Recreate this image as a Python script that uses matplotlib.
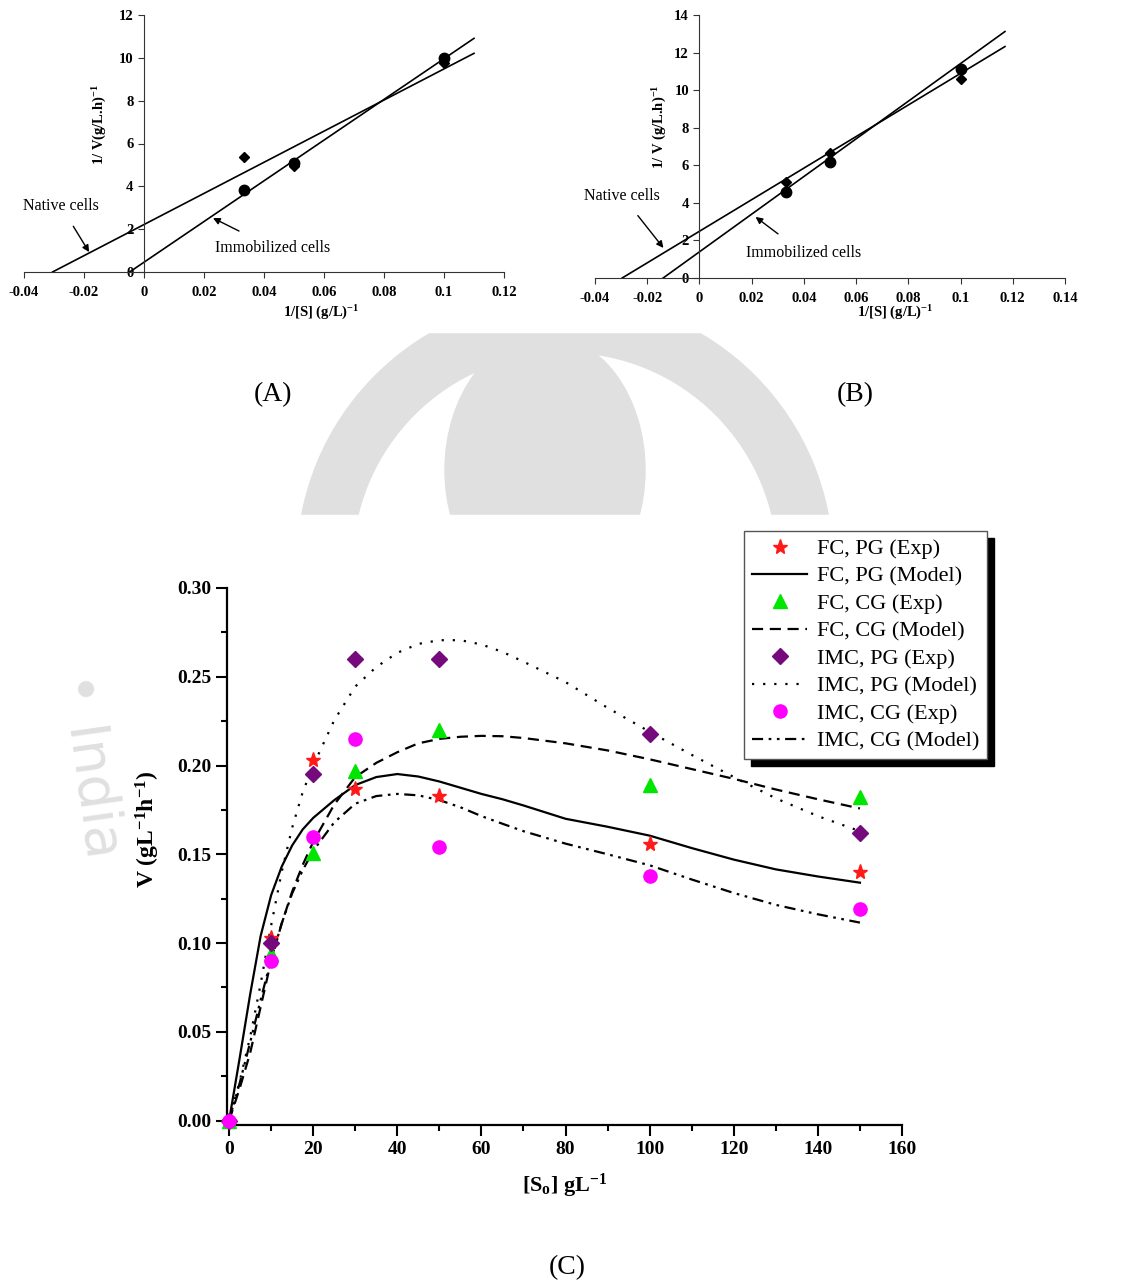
import matplotlib
matplotlib.use('Agg')
import matplotlib.pyplot as plt
from matplotlib.patches import Rectangle, Wedge, Ellipse
from matplotlib.transforms import Affine2D

plt.rcParams['font.family'] = ['Liberation Serif', 'DejaVu Serif']
plt.rcParams['mathtext.fontset'] = 'custom'
plt.rcParams['mathtext.rm'] = 'Liberation Serif'
plt.rcParams['mathtext.bf'] = 'Liberation Serif:bold'
plt.rcParams['mathtext.it'] = 'Liberation Serif:italic'

# ---- panel A: Lineweaver-Burk, native vs immobilized ----
a_inv_s = [0.0333, 0.05, 0.1]
a_native = [5.36, 4.93, 9.75]
a_immob = [3.81, 5.11, 9.98]
a_native_fit_x = [-0.0305, 0.110]
a_native_fit_y = [0.0, 10.21]
a_immob_fit_x = [-0.0048, 0.110]
a_immob_fit_y = [0.0, 10.91]

# ---- panel B ----
b_inv_s = [0.0333, 0.05, 0.1]
b_native = [5.09, 6.65, 10.58]
b_immob = [4.57, 6.18, 11.11]
b_native_fit_x = [-0.0296, 0.117]
b_native_fit_y = [0.0, 12.32]
b_immob_fit_x = [-0.0139, 0.117]
b_immob_fit_y = [0.0, 13.12]

# ---- panel C: rate vs substrate ----
s_exp = [0, 10, 20, 30, 50, 100, 150]
fc_pg_exp = [0.0, 0.103, 0.203, 0.187, 0.183, 0.156, 0.140]
fc_cg_exp = [0.0, 0.094, 0.151, 0.197, 0.220, 0.189, 0.182]
imc_pg_exp = [0.0, 0.100, 0.195, 0.260, 0.260, 0.218, 0.162]
imc_cg_exp = [0.0, 0.090, 0.160, 0.215, 0.154, 0.138, 0.119]

s_model = [0, 2.5, 5, 7.5, 10, 12.5, 15, 17.5, 20, 25, 30, 35, 40, 45, 50,
           55, 60, 65, 70, 80, 90, 100, 110, 120, 130, 140, 150]
fc_pg_model = [0.0, 0.035, 0.071, 0.104, 0.127, 0.143, 0.155, 0.164, 0.1705,
               0.1805, 0.189, 0.1935, 0.1952, 0.1938, 0.191, 0.1875, 0.184,
               0.181, 0.1775, 0.170, 0.1655, 0.1605, 0.1535, 0.147, 0.1415,
               0.1375, 0.134]
fc_cg_model = [0.0, 0.018, 0.038, 0.064, 0.090, 0.111, 0.129, 0.144, 0.157,
               0.178, 0.1935, 0.2015, 0.2075, 0.2125, 0.215, 0.2162, 0.2167,
               0.2165, 0.2155, 0.2125, 0.2085, 0.2035, 0.198, 0.1925, 0.1865,
               0.181, 0.1758]
imc_pg_model = [0.0, 0.022, 0.047, 0.077, 0.110, 0.140, 0.165, 0.185, 0.200,
                0.2255, 0.2445, 0.2555, 0.2635, 0.2685, 0.2706, 0.2706,
                0.2682, 0.264, 0.2585, 0.247, 0.2325, 0.219, 0.206, 0.1935,
                0.1815, 0.1715, 0.163]
imc_cg_model = [0.0, 0.021, 0.044, 0.068, 0.091, 0.111, 0.128, 0.141, 0.152,
                0.168, 0.1785, 0.1828, 0.184, 0.1832, 0.1805, 0.1765, 0.1715,
                0.1672, 0.163, 0.156, 0.150, 0.1438, 0.1358, 0.1282, 0.1215,
                0.1162, 0.1115]

W, H = 1137, 1285
fig = plt.figure(figsize=(W / 100, H / 100), dpi=100)
px = Affine2D().scale(1 / W, -1 / H).translate(0, 1) + fig.transFigure

# faint watermark behind the panels
wm = '#e0e0e0'
fig.patches.append(Wedge((565, 565), 268, 0, 360, width=55, color=wm,
                         transform=px, zorder=-5))
fig.patches.append(Ellipse((545, 470), 200, 270, color=wm,
                           transform=px, zorder=-5))
fig.text(90, 765, '• India', transform=px, rotation=-82, color=wm,
         fontsize=40, ha='center', va='center', family='DejaVu Sans',
         zorder=-5)
# white backgrounds of the original images
for x0, y0, w, h in [(0, 0, 1137, 332), (125, 515, 880, 700)]:
    fig.patches.append(Rectangle((x0, y0), w, h, color='white',
                                 transform=px, zorder=-4))


def lb_axes(rect, xlim, ylim, xticks, yticks):
    ax = fig.add_axes(rect)
    ax.set_facecolor('none')
    ax.set_xlim(*xlim)
    ax.set_ylim(*ylim)
    for sp in ['top', 'right']:
        ax.spines[sp].set_visible(False)
    ax.spines['left'].set_position(('data', 0))
    ax.spines['bottom'].set_position(('data', 0))
    for sp in ['left', 'bottom']:
        ax.spines[sp].set_linewidth(0.8)
        ax.spines[sp].set_color('#333333')
    ax.set_xticks(xticks)
    ax.set_xticklabels([('%g' % t) for t in xticks])
    ax.set_yticks(yticks)
    ax.tick_params(direction='out', length=4, width=0.8, colors='#333333',
                   labelcolor='black', labelsize=10.5)
    for lab in ax.get_xticklabels() + ax.get_yticklabels():
        lab.set_fontweight('bold')
    ax.tick_params(axis='x', pad=6)
    return ax


# panel A
axA = lb_axes([24 / W, 1 - 272 / H, 480 / W, 257 / H], (-0.04, 0.12), (0, 12),
              [-0.04, -0.02, 0, 0.02, 0.04, 0.06, 0.08, 0.1, 0.12],
              [0, 2, 4, 6, 8, 10, 12])
axA.plot(a_native_fit_x, a_native_fit_y, color='black', lw=1.2)
axA.plot(a_immob_fit_x, a_immob_fit_y, color='black', lw=1.2)
axA.plot(a_inv_s, a_native, 'D', color='black', ms=5.5, clip_on=False)
axA.plot(a_inv_s, a_immob, 'o', color='black', ms=7.5, clip_on=False)
axA.annotate('Native cells', xy=(-0.0183, 0.93), xytext=(-0.0277, 3.08),
             ha='center', va='center', fontsize=11.5,
             arrowprops=dict(arrowstyle='-|>', color='black', lw=1,
                             mutation_scale=10, shrinkA=8, shrinkB=0))
axA.annotate('Immobilized cells', xy=(0.023, 2.52), xytext=(0.043, 1.12),
             ha='center', va='center', fontsize=11.5,
             arrowprops=dict(arrowstyle='-|>', color='black', lw=1,
                             mutation_scale=10, shrinkA=10, shrinkB=0))
fig.text(321, 313, r'1/[S] (g/L)$^{\mathbf{-1}}$', transform=px, ha='center',
         va='center', fontsize=10.5, fontweight='bold')
fig.text(100, 125, r'1/ V(g/L.h)$^{\mathbf{-1}}$', transform=px, ha='center',
         va='center', fontsize=10.5, fontweight='bold', rotation=90)

# panel B
axB = lb_axes([595 / W, 1 - 278 / H, 470 / W, 263 / H], (-0.04, 0.14), (0, 14),
              [-0.04, -0.02, 0, 0.02, 0.04, 0.06, 0.08, 0.1, 0.12, 0.14],
              [0, 2, 4, 6, 8, 10, 12, 14])
axB.plot(b_native_fit_x, b_native_fit_y, color='black', lw=1.2)
axB.plot(b_immob_fit_x, b_immob_fit_y, color='black', lw=1.2)
axB.plot(b_inv_s, b_native, 'D', color='black', ms=5.5, clip_on=False)
axB.plot(b_inv_s, b_immob, 'o', color='black', ms=7.5, clip_on=False)
axB.annotate('Native cells', xy=(-0.0138, 1.6), xytext=(-0.0295, 4.36),
             ha='center', va='center', fontsize=11.5,
             arrowprops=dict(arrowstyle='-|>', color='black', lw=1,
                             mutation_scale=10, shrinkA=8, shrinkB=0))
axB.annotate('Immobilized cells', xy=(0.0215, 3.25), xytext=(0.0398, 1.33),
             ha='center', va='center', fontsize=11.5,
             arrowprops=dict(arrowstyle='-|>', color='black', lw=1,
                             mutation_scale=10, shrinkA=10, shrinkB=0))
fig.text(895, 313, r'1/[S] (g/L)$^{\mathbf{-1}}$', transform=px, ha='center',
         va='center', fontsize=10.5, fontweight='bold')
fig.text(660, 127, r'1/ V (g/L.h)$^{\mathbf{-1}}$', transform=px, ha='center',
         va='center', fontsize=10.5, fontweight='bold', rotation=90)

# panel C
axC = fig.add_axes([227 / W, 1 - 1125 / H, 675 / W, 537 / H])
axC.set_facecolor('none')
axC.set_xlim(-0.5, 160)
axC.set_ylim(-0.0025, 0.30)
for sp in ['top', 'right']:
    axC.spines[sp].set_visible(False)
for sp in ['left', 'bottom']:
    axC.spines[sp].set_linewidth(1.6)
axC.set_xticks(range(0, 161, 20))
axC.set_xticks(range(0, 161, 10), minor=True)
axC.set_yticks([0, 0.05, 0.10, 0.15, 0.20, 0.25, 0.30])
axC.set_yticks([0.025, 0.075, 0.125, 0.175, 0.225, 0.275], minor=True)
axC.set_yticklabels(['0.00', '0.05', '0.10', '0.15', '0.20', '0.25', '0.30'])
axC.tick_params(which='major', direction='out', length=8, width=1.5,
                labelsize=14)
axC.tick_params(which='minor', direction='out', length=4.5, width=1.5)
for lab in axC.get_xticklabels() + axC.get_yticklabels():
    lab.set_fontweight('bold')

axC.plot(s_exp, fc_pg_exp, '*', color='#ff1a1a', ms=11, ls='none',
         label='FC, PG (Exp)', clip_on=False, zorder=4)
axC.plot(s_model, fc_pg_model, '-', color='black', lw=1.6,
         label='FC, PG (Model)')
axC.plot(s_exp, fc_cg_exp, '^', color='#00e600', ms=10, ls='none',
         label='FC, CG (Exp)', clip_on=False, zorder=4)
axC.plot(s_model, fc_cg_model, color='black', lw=1.6, ls=(0, (5, 3)),
         label='FC, CG (Model)')
axC.plot(s_exp, imc_pg_exp, 'D', color='#750a7c', ms=8, ls='none',
         label='IMC, PG (Exp)', clip_on=False, zorder=4)
axC.plot(s_model, imc_pg_model, color='black', lw=1.6, ls=(0, (1, 4)),
         label='IMC, PG (Model)')
axC.plot(s_exp, imc_cg_exp, 'o', color='#ff00ff', ms=9.5, ls='none',
         label='IMC, CG (Exp)', clip_on=False, zorder=4)
axC.plot(s_model, imc_cg_model, color='black', lw=1.6,
         ls=(0, (5, 2.5, 1.2, 2.5, 1.2, 2.5)), label='IMC, CG (Model)')

axC.set_xlabel(r'[S$_{\mathbf{o}}$] gL$^{\mathbf{-1}}$', fontsize=16,
               fontweight='bold', labelpad=10)
axC.set_ylabel(r'V (gL$^{\mathbf{-1}}$h$^{\mathbf{-1}}$)', fontsize=17,
               fontweight='bold')
axC.yaxis.set_label_coords(-0.097, 0.55)

leg = axC.legend(loc='upper left', bbox_to_anchor=(744 / W, 1 - 531 / H),
                 bbox_transform=fig.transFigure, borderaxespad=0,
                 fontsize=16, numpoints=1,
                 frameon=True, fancybox=False, edgecolor='#555555',
                 framealpha=1, borderpad=0.35, labelspacing=0.31,
                 handlelength=2.5, handletextpad=0.45,
                 shadow={'ox': 5, 'oy': -5, 'facecolor': 'black',
                         'edgecolor': 'black', 'alpha': 1})
leg.get_frame().set_linewidth(1.0)

# panel captions
for lab, x, y in [('(A)', 273, 395), ('(B)', 855, 395), ('(C)', 567, 1268)]:
    fig.text(x, y, lab, transform=px, ha='center', va='center', fontsize=20)

plt.savefig('out.png', dpi=100)
